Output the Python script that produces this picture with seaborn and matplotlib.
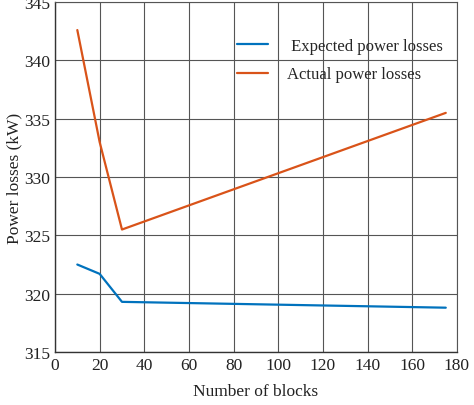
import matplotlib
matplotlib.use("Agg")
import matplotlib.pyplot as plt
import seaborn as sns
import pandas as pd

# Number of blocks and power losses (kW)
blocks = [10, 20, 30, 175]
expected_losses = [322.5, 321.7, 319.3, 318.8]
actual_losses = [342.6, 333.0, 325.5, 335.5]

x_ticks = [0, 20, 40, 60, 80, 100, 120, 140, 160, 180]
y_ticks = [315, 320, 325, 330, 335, 340, 345]

sns.set_theme(style="white")
plt.rcParams["font.family"] = ["Liberation Serif", "DejaVu Serif"]

df = pd.DataFrame({
    "blocks": blocks * 2,
    "loss": expected_losses + actual_losses,
    "series": [" Expected power losses"] * len(blocks) + ["Actual power losses"] * len(blocks),
})

fig = plt.figure(figsize=(4.74, 4.06), dpi=100)
ax = fig.add_axes([0.116, 0.1305, 0.848, 0.862])

sns.lineplot(data=df, x="blocks", y="loss", hue="series",
             palette=["#0072BD", "#D95319"], linewidth=1.6, ax=ax)

ax.set_xlim(0, 180)
ax.set_ylim(315, 345)
ax.set_xticks(x_ticks)
ax.set_yticks(y_ticks)
ax.grid(True, color="#555555", linewidth=0.8)
ax.set_axisbelow(True)
ax.tick_params(direction="in", length=4, labelsize=12.5, colors="#333333",
               labelcolor="#222222")
for side in ["left", "bottom"]:
    ax.spines[side].set_color("#333333")
    ax.spines[side].set_linewidth(1.0)
for side in ["top", "right"]:
    ax.spines[side].set_color("#555555")
    ax.spines[side].set_linewidth(0.8)

ax.set_xlabel("Number of blocks", fontsize=12.5, color="#222222", labelpad=7)
ax.set_ylabel("Power losses (kW)", fontsize=12.5, color="#222222", labelpad=1)

leg = ax.legend(loc="upper right", bbox_to_anchor=(1.01, 0.95), frameon=True,
                fontsize=12, handlelength=1.9, handletextpad=1.1,
                labelspacing=0.75, borderpad=0.6)
leg.get_frame().set_facecolor("white")
leg.get_frame().set_edgecolor("none")
leg.get_frame().set_alpha(0.0)
leg.set_title(None)

fig.savefig("out.png", dpi=100)
